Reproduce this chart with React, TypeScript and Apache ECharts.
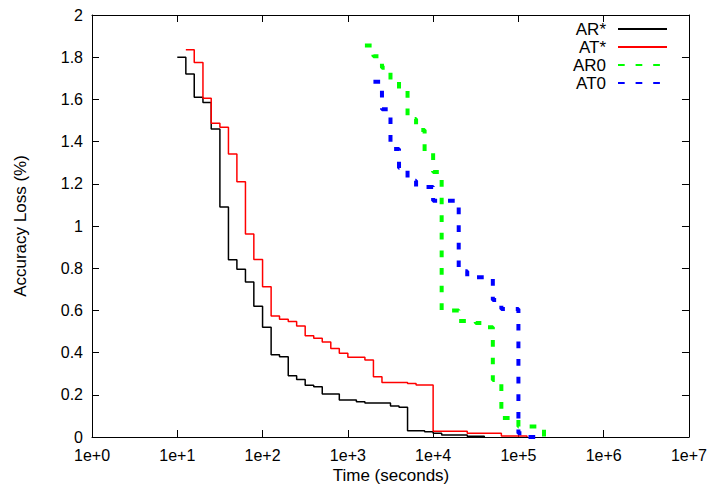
import React, { useEffect, useRef } from "react";
import * as echarts from "echarts";

// ---- data (time in seconds, accuracy loss in %) ----
const arStarTime = [10, 12.6, 15.8, 20, 25, 31.6, 39.8, 50, 63, 79, 100, 126, 158, 200, 251, 316, 398, 501, 794, 1259, 1585, 3162, 3981, 5012, 7943, 10000, 12589, 25119, 39811];
const arStarLoss = [1.80, 1.72, 1.61, 1.585, 1.46, 1.09, 0.84, 0.795, 0.735, 0.62, 0.52, 0.39, 0.38, 0.29, 0.273, 0.245, 0.238, 0.204, 0.175, 0.167, 0.161, 0.147, 0.141, 0.03, 0.025, 0.0175, 0.01, 0.004, 0];

const atStarTime = [12.6, 15.8, 20, 25, 31.6, 39.8, 50, 63, 79, 100, 126, 158, 200, 251, 316, 398, 501, 631, 794, 1000, 1585, 1995, 2512, 5012, 6310, 10000, 25119, 63096, 125893];
const atStarLoss = [1.835, 1.775, 1.605, 1.487, 1.468, 1.341, 1.21, 0.962, 0.841, 0.712, 0.573, 0.558, 0.547, 0.526, 0.48, 0.468, 0.45, 0.419, 0.397, 0.378, 0.365, 0.286, 0.258, 0.253, 0.247, 0.027, 0.018, 0.005, 0];

const ar0Time = [1585, 1995, 2512, 3162, 3981, 5012, 6310, 7943, 10000, 12589, 19953, 31623, 39811, 50119, 63096, 100000, 199526];
const ar0Loss = [1.855, 1.804, 1.75, 1.69, 1.645, 1.507, 1.455, 1.355, 1.256, 0.60, 0.55, 0.54, 0.52, 0.27, 0.09, 0.05, 0];

const at0Time = [1995, 2512, 3162, 3981, 5012, 6310, 10000, 19953, 25119, 50119, 63096, 100000, 125893, 199526];
const at0Loss = [1.684, 1.553, 1.365, 1.275, 1.215, 1.185, 1.12, 0.785, 0.757, 0.649, 0.607, 0.018, 0, 0];

const seriesNames = ["AR*", "AT*", "AR0", "AT0"];
const xAxisTitle = "Time (seconds)";
const yAxisTitle = "Accuracy Loss (%)";

const FONT = '"Liberation Sans", Arial, Helvetica, sans-serif';

function zip(t: number[], v: number[]) {
  return t.map((x, i) => [x, v[i]]);
}

export default function App() {
  const ref = useRef<HTMLDivElement>(null);
  useEffect(() => {
    if (!ref.current) return;
    const chart = echarts.init(ref.current, null, { renderer: "svg" });
    const black = "#000000";
    const tickStyle = { color: black, width: 1 };
    const xLog = (position: "bottom" | "top", showLabel: boolean) => ({
      type: "log",
      logBase: 10,
      min: 1,
      max: 1e7,
      splitNumber: 7,
      position,
      axisLine: { show: true, onZero: false, lineStyle: { color: black, width: 1 } },
      axisTick: { show: true, inside: true, length: 7, lineStyle: tickStyle },
      minorTick: { show: false },
      splitLine: { show: false },
      axisLabel: {
        show: showLabel,
        color: black,
        fontFamily: FONT,
        fontSize: 16,
        margin: 10,
        formatter: (v: number) => "1e+" + Math.round(Math.log10(v)),
      },
    });
    const yVal = (position: "left" | "right", showLabel: boolean) => ({
      type: "value",
      min: 0,
      max: 2,
      interval: 0.2,
      position,
      axisLine: { show: true, onZero: false, lineStyle: { color: black, width: 1 } },
      axisTick: { show: true, inside: true, length: 7, lineStyle: tickStyle },
      splitLine: { show: false },
      axisLabel: {
        show: showLabel,
        color: black,
        fontFamily: FONT,
        fontSize: 16,
        margin: 9,
        formatter: (v: number) => String(Math.round(v * 10) / 10),
      },
    });

    const solid = (name: string, data: number[][], color: string) => ({
      type: "line",
      name,
      data,
      step: "end",
      symbol: "none",
      showSymbol: false,
      xAxisIndex: 0,
      yAxisIndex: 0,
      itemStyle: { color },
      lineStyle: { color, width: 1.5 },
    });
    const dashed = (name: string, data: number[][], color: string) => ({
      type: "line",
      name,
      data,
      step: "end",
      symbol: "none",
      showSymbol: false,
      xAxisIndex: 0,
      yAxisIndex: 0,
      itemStyle: { color },
      lineStyle: { color, width: 4, type: [6.7, 10.9], cap: "butt" },
    });

    const option: any = {
      animation: false,
      backgroundColor: "#ffffff",
      grid: { left: 92, right: 20, top: 15, bottom: 60, containLabel: false },
      xAxis: [xLog("bottom", true), xLog("top", false)],
      yAxis: [yVal("left", true), yVal("right", false)],
      legend: {
        show: true,
        orient: "vertical",
        align: "right",
        right: 42,
        top: 20,
        padding: 0,
        itemGap: 0,
        itemWidth: 49,
        itemHeight: 10,
        data: seriesNames,
        itemStyle: { opacity: 0 },
        textStyle: {
          color: black,
          fontFamily: FONT,
          fontSize: 17,
          lineHeight: 18,
          padding: [0, 7, 0, 0],
        },
      },
      graphic: [
        {
          type: "text",
          x: 391,
          y: 475,
          style: {
            text: xAxisTitle,
            fill: black,
            font: `17px ${FONT}`,
            align: "center",
            verticalAlign: "middle",
          },
        },
        {
          type: "text",
          x: 20,
          y: 226,
          rotation: Math.PI / 2,
          style: {
            text: yAxisTitle,
            fill: black,
            font: `17px ${FONT}`,
            align: "center",
            verticalAlign: "middle",
          },
        },
      ],
      series: [
        solid(seriesNames[0], zip(arStarTime, arStarLoss), "#000000"),
        solid(seriesNames[1], zip(atStarTime, atStarLoss), "#ff0000"),
        dashed(seriesNames[2], zip(ar0Time, ar0Loss), "#00ff00"),
        dashed(seriesNames[3], zip(at0Time, at0Loss), "#0000ff"),
      ],
    };
    chart.setOption(option);
    return () => chart.dispose();
  }, []);
  return (
    <div
      ref={ref}
      style={{ position: "fixed", left: 0, top: 0, width: 710, height: 497, background: "#fff" }}
    />
  );
}
